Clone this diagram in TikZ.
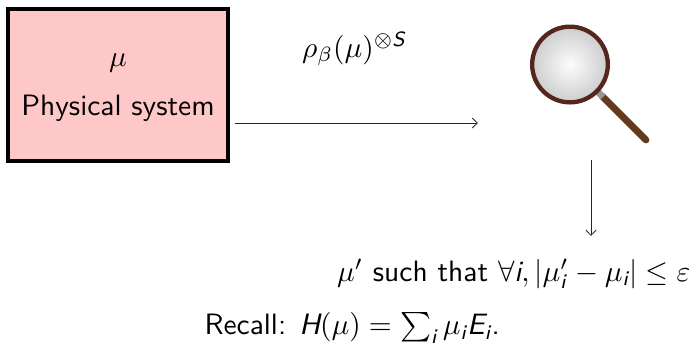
\documentclass[tikz,border=0pt]{standalone}
\usepackage{amsmath}
\usepackage{amssymb}
\usetikzlibrary{arrows.meta}
\newcommand{\sfi}[1]{\text{\sffamily\itshape #1}}
\definecolor{boxpink}{RGB}{255,200,200}
\definecolor{ringbrown}{RGB}{84,38,30}
\definecolor{handlebrown}{RGB}{100,58,30}
\definecolor{lensgray}{RGB}{205,205,205}
\definecolor{ferrule}{RGB}{150,150,150}
\tikzset{
  pxgrid/.style={x=0.37pt,y=-0.37pt},
  lab/.style={inner sep=0pt,font=\sffamily,scale=1.09},
  sysbox/.style={draw=black,fill=boxpink,line width=1.6pt,minimum width=81.4pt,minimum height=56.2pt,inner sep=0pt},
  link/.style={draw=black!85,line width=0.3pt,-{Straight Barb[length=2pt,width=3.8pt]}},
}
\begin{document}
\begin{tikzpicture}[pxgrid]
\useasboundingbox (0,0) rectangle (694,342);
\node[sysbox] (box) at (118,85) {};
\node[lab] (mu) at (118,63) {$\mu$};
\node[lab] (phys) at (118,108) {Physical system};
\node[lab] (rho) at (354,49) {$\rho_{\beta}(\mu)^{\otimes \sfi{S}}$};
% magnifier
\coordinate (h1) at (602,96);
\coordinate (h2) at (646,140);
\draw[handlebrown,line cap=round,line width=2.5pt] (h1) -- (h2);
\draw[ferrule,line width=2.4pt] (598,92) -- (603,97);
\node[circle,draw=ringbrown,line width=1.6pt,minimum size=28pt,inner sep=0pt,
      inner color=white!95!lensgray,outer color=lensgray] (lens) at (570,64.5) {};
\coordinate (a1) at (235,123);
\coordinate (a2) at (478,123);
\coordinate (b1) at (591,160);
\coordinate (b2) at (591,236);
\draw[link] (a1) -- (a2);
\draw[link] (b1) -- (b2);
\node[lab,anchor=east] (res) at (691,274) {$\mu'$ such that $\forall \sfi{i}, |\mu'_{\sfi{i}}-\mu_{\sfi{i}}|\leq\varepsilon$};
\node[lab,anchor=west] (recall) at (204,328) {Recall: $\sfi{H}(\mu)=\sum_{\sfi{i}}\mu_{\sfi{i}}\sfi{E}_{\sfi{i}}$.};
\end{tikzpicture}
\end{document}
